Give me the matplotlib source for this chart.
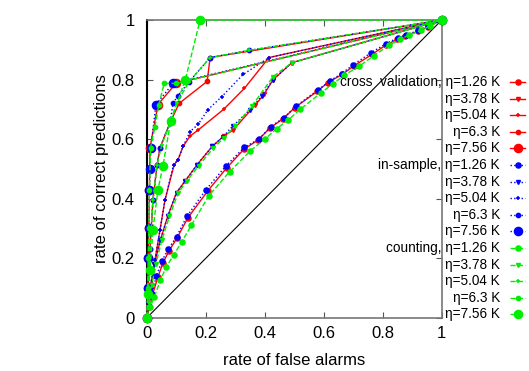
import matplotlib
matplotlib.use("Agg")
import matplotlib.pyplot as plt
from matplotlib.lines import Line2D

plt.rcParams['font.family'] = ['Liberation Sans', 'DejaVu Sans']

# ROC points (false alarm rate, correct prediction rate)
# eta = 1.26 K
cv_126_x = [0, 0.008, 0.018, 0.037, 0.054, 0.075, 0.102, 0.139, 0.207, 0.271, 0.329, 0.377, 0.417, 0.461, 0.502, 0.577, 0.614, 0.662, 0.702, 0.764, 0.811, 0.848, 0.876, 0.920, 0.953, 1]
cv_126_y = [0, 0.035, 0.075, 0.137, 0.184, 0.225, 0.268, 0.336, 0.427, 0.504, 0.566, 0.597, 0.637, 0.668, 0.706, 0.760, 0.790, 0.817, 0.846, 0.885, 0.916, 0.935, 0.947, 0.962, 0.977, 1]
is_126_x = [0, 0.006, 0.016, 0.032, 0.05, 0.072, 0.1, 0.135, 0.2, 0.268, 0.33, 0.38, 0.42, 0.465, 0.505, 0.58, 0.62, 0.66, 0.70, 0.76, 0.81, 0.85, 0.88, 0.92, 0.955, 1]
is_126_y = [0, 0.04, 0.08, 0.14, 0.19, 0.23, 0.272, 0.34, 0.43, 0.51, 0.572, 0.60, 0.642, 0.672, 0.71, 0.765, 0.795, 0.82, 0.85, 0.89, 0.92, 0.94, 0.95, 0.965, 0.98, 1]
ct_126_x = [0, 0.01, 0.025, 0.045, 0.065, 0.09, 0.118, 0.15, 0.21, 0.28, 0.35, 0.4, 0.44, 0.48, 0.52, 0.59, 0.63, 0.67, 0.72, 0.77, 0.82, 0.86, 0.89, 0.93, 0.96, 1]
ct_126_y = [0, 0.035, 0.07, 0.125, 0.17, 0.21, 0.255, 0.31, 0.41, 0.49, 0.56, 0.6, 0.635, 0.665, 0.70, 0.755, 0.785, 0.815, 0.845, 0.88, 0.915, 0.935, 0.95, 0.965, 0.98, 1]

# eta = 3.78 K
cv_378_x = [0, 0.004, 0.012, 0.025, 0.045, 0.07, 0.1, 0.13, 0.17, 0.221, 0.26, 0.292, 0.366, 0.397, 0.428, 0.492, 1]
cv_378_y = [0, 0.05, 0.11, 0.18, 0.26, 0.34, 0.42, 0.46, 0.514, 0.575, 0.61, 0.63, 0.713, 0.75, 0.80, 0.857, 1]
is_378_x = [0, 0.004, 0.012, 0.025, 0.045, 0.07, 0.1, 0.13, 0.17, 0.221, 0.258, 0.292, 0.35, 0.39, 0.428, 0.492, 1]
is_378_y = [0, 0.05, 0.11, 0.18, 0.26, 0.34, 0.42, 0.46, 0.514, 0.575, 0.608, 0.645, 0.699, 0.746, 0.80, 0.857, 1]
ct_378_x = [0, 0.006, 0.016, 0.03, 0.05, 0.076, 0.106, 0.136, 0.175, 0.225, 0.262, 0.3, 0.355, 0.428, 0.492, 1]
ct_378_y = [0, 0.05, 0.11, 0.18, 0.26, 0.34, 0.42, 0.46, 0.51, 0.57, 0.605, 0.645, 0.71, 0.81, 0.857, 1]

# eta = 5.04 K
cv_504_x = [0, 0.004, 0.014, 0.027, 0.044, 0.061, 0.092, 0.105, 0.122, 0.146, 0.173, 0.26, 0.33, 0.414, 1]
cv_504_y = [0, 0.05, 0.093, 0.194, 0.295, 0.396, 0.514, 0.53, 0.575, 0.61, 0.63, 0.70, 0.77, 0.874, 1]
is_504_x = [0, 0.004, 0.014, 0.027, 0.044, 0.061, 0.09, 0.105, 0.122, 0.146, 0.173, 0.207, 0.254, 0.326, 0.414, 1]
is_504_y = [0, 0.05, 0.093, 0.194, 0.295, 0.396, 0.514, 0.53, 0.575, 0.625, 0.649, 0.699, 0.743, 0.817, 0.874, 1]
ct_504_x = [0, 0.003, 0.01, 0.02, 0.034, 0.05, 0.08, 0.1, 0.143, 0.214, 0.346, 1]
ct_504_y = [0, 0.09, 0.23, 0.396, 0.514, 0.58, 0.66, 0.72, 0.793, 0.874, 0.898, 1]

# eta = 6.3 K
cv_63_x = [0, 0.003, 0.01, 0.02, 0.034, 0.044, 0.078, 0.109, 0.204, 0.214, 1]
cv_63_y = [0, 0.09, 0.23, 0.396, 0.514, 0.571, 0.655, 0.72, 0.794, 0.874, 1]
is_63_x = [0, 0.003, 0.01, 0.02, 0.034, 0.044, 0.078, 0.088, 0.105, 0.143, 0.214, 0.346, 1]
is_63_y = [0, 0.09, 0.23, 0.396, 0.514, 0.571, 0.655, 0.72, 0.746, 0.793, 0.874, 0.898, 1]
ct_63_x = [0, 0.002, 0.004, 0.006, 0.008, 0.012, 0.027, 0.04, 0.058, 0.098, 1]
ct_63_y = [0, 0.1, 0.2, 0.3, 0.43, 0.571, 0.642, 0.716, 0.787, 0.787, 1]

# eta = 7.56 K
cv_756_x = [0, 0.002, 0.004, 0.006, 0.008, 0.01, 0.037, 0.098, 1]
cv_756_y = [0, 0.1, 0.2, 0.3, 0.43, 0.571, 0.716, 0.787, 1]
is_756_x = [0, 0.002, 0.004, 0.006, 0.008, 0.01, 0.013, 0.03, 0.088, 1]
is_756_y = [0, 0.1, 0.2, 0.3, 0.43, 0.5, 0.571, 0.716, 0.787, 1]
ct_756_x = [0, 0.003, 0.01, 0.02, 0.037, 0.054, 0.08, 0.13, 0.18, 1]
ct_756_y = [0, 0.08, 0.16, 0.295, 0.43, 0.51, 0.66, 0.8, 1.0, 1.0]

eta_labels = ['η=1.26 K', 'η=3.78 K', 'η=5.04 K', 'η=6.3 K', 'η=7.56 K']
method_names = ['cross  validation, ', 'in-sample, ', 'counting, ']

series = [
    [(cv_126_x, cv_126_y), (cv_378_x, cv_378_y), (cv_504_x, cv_504_y), (cv_63_x, cv_63_y), (cv_756_x, cv_756_y)],
    [(is_126_x, is_126_y), (is_378_x, is_378_y), (is_504_x, is_504_y), (is_63_x, is_63_y), (is_756_x, is_756_y)],
    [(ct_126_x, ct_126_y), (ct_378_x, ct_378_y), (ct_504_x, ct_504_y), (ct_63_x, ct_63_y), (ct_756_x, ct_756_y)],
]

colors = ['#ff0000', '#0000ff', '#00ee00']
styles = ['-', ':', '--']
markers = [('o', 3.6), ('v', 2.8), ('+', 3.2), ('o', 3.0), ('o', 5.8)]

fig = plt.figure(figsize=(5.29, 3.71), dpi=100)
ax = fig.add_axes([0.278, 0.144, 0.557, 0.802])

ax.plot([0, 1], [0, 1], color='black', lw=0.8)

for m in range(3):
    for k in range(5):
        xs, ys = series[m][k]
        mk, ms = markers[k]
        ax.plot(xs, ys, color=colors[m], ls=styles[m], lw=1.0, marker=mk,
                ms=ms, mew=1.1, clip_on=False, zorder=3)

ax.set_xlim(0, 1)
ax.set_ylim(0, 1)
ticks = [0, 0.2, 0.4, 0.6, 0.8, 1]
ticklabels = ['0', '0.2', '0.4', '0.6', '0.8', '1']
ax.set_xticks(ticks)
ax.set_xticklabels(ticklabels)
ax.set_yticks(ticks)
ax.set_yticklabels(ticklabels)
ax.tick_params(direction='in', top=True, right=True, length=4, labelsize=12, color='#555555')
ax.tick_params(axis='x', pad=6)
ax.tick_params(axis='y', pad=9)
for s in ['top', 'right', 'bottom']:
    ax.spines[s].set_color('#777777')
    ax.spines[s].set_linewidth(1.2)
ax.spines['left'].set_color('black')
ax.spines['left'].set_linewidth(1.5)
ax.set_xlabel('rate of false alarms', fontsize=12, labelpad=9)
ax.set_ylabel('rate of correct predictions', fontsize=12, labelpad=2)

# legend, drawn by hand: right-aligned text, sample on the right
W, H = 529, 371
row = 0
for m in range(3):
    for k in range(5):
        py = 82 + row * 16.6
        yf = 1 - py / H
        label = (method_names[m] if k == 0 else '') + eta_labels[k]
        fig.text(500 / W, yf, label, ha='right', va='center', fontsize=9.8)
        mk, ms = markers[k]
        fig.add_artist(Line2D([510 / W, 525 / W], [yf, yf], transform=fig.transFigure,
                              color=colors[m], ls=styles[m], lw=1.0))
        fig.add_artist(Line2D([517.5 / W], [yf], transform=fig.transFigure,
                              color=colors[m], marker=mk, ms=ms, mew=1.1, ls='none'))
        row += 1

fig.savefig('out.png', dpi=100)
